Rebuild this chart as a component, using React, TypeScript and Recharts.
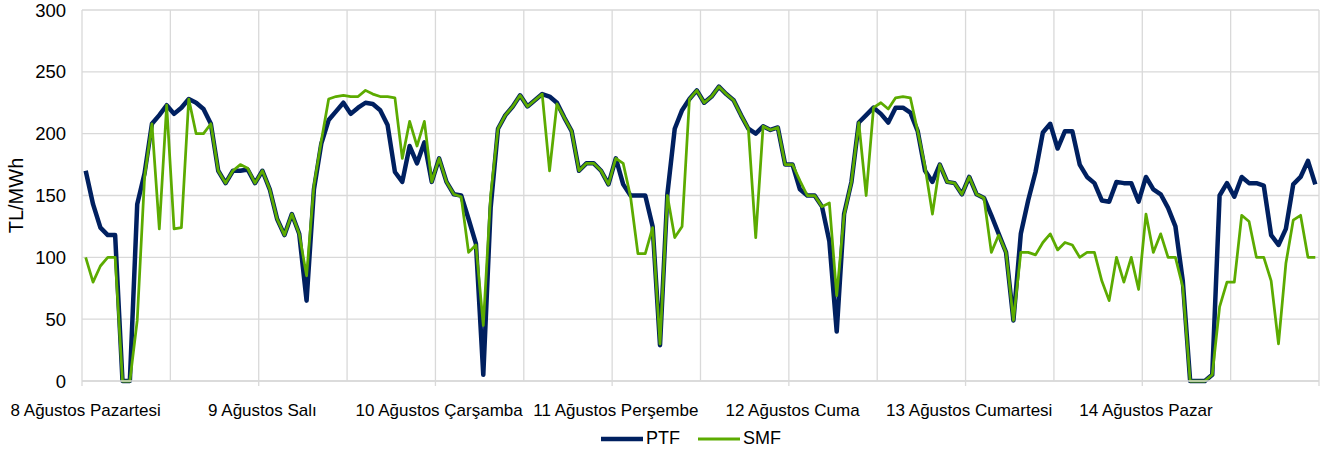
import React from 'react';
import { LineChart, Line, XAxis, YAxis, CartesianGrid, Legend } from 'recharts';

const DAY_LABELS = [
  '8 Ağustos Pazartesi',
  '9 Ağustos Salı',
  '10 Ağustos Çarşamba',
  '11 Ağustos Perşembe',
  '12 Ağustos Cuma',
  '13 Ağustos Cumartesi',
  '14 Ağustos Pazar',
];
const HOURS_PER_DAY = 24;
const GRID_STEP = 12;

const PTF = [
  170, 143, 124, 118, 118, 0, 0, 143, 168, 208, 215, 223, 216, 221, 228, 225, 220, 208, 170, 160, 170, 170, 171, 160,
  170, 155, 131, 118, 135, 119, 65, 155, 192, 211, 218, 225, 216, 221, 225, 224, 219, 207, 169, 161, 190, 176, 193, 161,
  180, 161, 151, 150, 131, 111, 5, 140, 204, 215, 222, 231, 222, 227, 232, 230, 225, 213, 202, 170, 176, 176, 170, 159,
  180, 159, 150, 150, 150, 125, 29, 151, 204, 219, 228, 235, 225, 230, 238, 232, 227, 215, 204, 200, 206, 203, 205, 175,
  175, 155, 150, 150, 141, 113, 40, 135, 161, 209, 215, 221, 216, 209, 221, 221, 217, 202, 170, 161, 175, 161, 160, 151,
  165, 151, 148, 134, 119, 104, 49, 119, 146, 169, 201, 208, 188, 202, 202, 175, 165, 160, 146, 145, 161, 160, 160, 145,
  165, 155, 151, 140, 125, 81, 0, 0, 0, 5, 150, 160, 149, 165, 160, 160, 158, 118, 110, 123, 159, 165, 178, 159,
];

const SMF = [
  100, 80, 93, 100, 100, 0, 0, 49, 165, 208, 123, 223, 123, 124, 228, 200, 200, 208, 170, 160, 170, 175, 172, 160,
  170, 155, 131, 118, 135, 119, 85, 158, 194, 228, 230, 231, 230, 230, 235, 232, 230, 230, 229, 180, 210, 190, 210, 161,
  180, 161, 151, 149, 104, 110, 45, 150, 204, 215, 222, 231, 222, 227, 232, 170, 224, 213, 202, 170, 176, 176, 170, 159,
  180, 176, 149, 103, 103, 124, 30, 150, 116, 125, 228, 235, 225, 230, 238, 232, 227, 215, 204, 116, 206, 203, 205, 175,
  175, 162, 150, 150, 141, 144, 69, 134, 161, 209, 150, 221, 225, 220, 229, 230, 229, 202, 173, 135, 175, 161, 160, 151,
  165, 151, 148, 104, 118, 104, 49, 104, 104, 102, 112, 119, 106, 112, 110, 100, 104, 104, 81, 65, 100, 80, 100, 74,
  135, 104, 119, 100, 100, 76, 0, 0, 0, 5, 60, 80, 80, 134, 129, 100, 100, 81, 30, 95, 130, 134, 100, 100,
];

const Y_TICKS = [0, 50, 100, 150, 200, 250, 300];
const SERIES_NAMES = ['PTF', 'SMF'];

const N = PTF.length;
const X_TICKS = Array.from({ length: N / GRID_STEP + 1 }, (_, k) => k * GRID_STEP - 0.5);
const data = PTF.map((p, i) => ({ h: i, PTF: p, SMF: SMF[i] }));

const NAVY = '#002060';
const GREEN = '#5cab00';
const GRID = '#d9d9d9';
const FONT = '"Liberation Sans", Arial, sans-serif';

const XTick = (props: any) => {
  const { x, y, payload, width } = props;
  const v = payload.value + 0.5;
  if (v % HOURS_PER_DAY !== 0) return <g />;
  const day = v / HOURS_PER_DAY;
  const w = typeof width === 'number' && width > 0 ? width : 1237;
  const half = w / N / 2;
  return (
    <g>
      <line x1={x} x2={x} y1={y} y2={y + 5} stroke={GRID} strokeWidth={1.3} />
      {day < DAY_LABELS.length && (
        <text x={x + half} y={y + 35} textAnchor="middle" fontSize={17} fill="#000" fontFamily={FONT}>
          {DAY_LABELS[day]}
        </text>
      )}
    </g>
  );
};

const YTitle = (props: any) => {
  const vb = props.viewBox || { x: 0, y: 10, width: 82, height: 371 };
  const cx = vb.x + 16;
  const cy = vb.y + vb.height / 2;
  return (
    <text
      x={cx}
      y={cy}
      transform={`rotate(-90 ${cx} ${cy})`}
      textAnchor="middle"
      dominantBaseline="central"
      fontSize={20}
      fill="#000"
      fontFamily={FONT}
    >
      TL/MWh
    </text>
  );
};

const LegendContent = () => {
  const colors = [NAVY, GREEN];
  const widths = [4.5, 3];
  return (
    <div
      style={{
        height: 45,
        display: 'flex',
        alignItems: 'center',
        paddingLeft: 601,
        paddingTop: 10,
        boxSizing: 'border-box',
        fontFamily: FONT,
        fontSize: 18,
        color: '#000',
      }}
    >
      {SERIES_NAMES.map((name, i) => (
        <div key={name} style={{ display: 'flex', alignItems: 'center', marginRight: 18 }}>
          <svg width={42} height={10} style={{ marginRight: 3 }}>
            <line x1={0} x2={42} y1={5} y2={5} stroke={colors[i]} strokeWidth={widths[i]} />
          </svg>
          <span>{name}</span>
        </div>
      ))}
    </div>
  );
};

export default function App() {
  return (
    <div style={{ position: 'absolute', left: 0, top: 0, width: 1323, height: 456, background: '#fff', fontFamily: FONT }}>
      <LineChart width={1323} height={456} data={data} margin={{ top: 10, right: 4, left: 0, bottom: 0 }}>
        <CartesianGrid stroke={GRID} strokeWidth={1.3} />
        <XAxis
          dataKey="h"
          type="number"
          domain={[-0.5, N - 0.5]}
          ticks={X_TICKS}
          interval={0}
          tickLine={false}
          tickSize={0}
          tickMargin={0}
          axisLine={{ stroke: GRID, strokeWidth: 1.3 }}
          tick={<XTick />}
          height={30}
        />
        <YAxis
          type="number"
          domain={[0, 300]}
          ticks={Y_TICKS}
          interval={0}
          width={82}
          axisLine={false}
          tickLine={false}
          tickSize={0}
          tickMargin={16}
          tick={{ fontSize: 18.5, fill: '#000', fontFamily: FONT }}
          label={<YTitle />}
        />
        <Legend verticalAlign="bottom" height={45} content={<LegendContent />} wrapperStyle={{ left: 0, bottom: 0, width: 1323, height: 45 }} />
        <Line
          type="linear"
          dataKey="PTF"
          stroke={NAVY}
          strokeWidth={4.5}
          dot={false}
          activeDot={false}
          isAnimationActive={false}
          strokeLinejoin="round"
        />
        <Line
          type="linear"
          dataKey="SMF"
          stroke={GREEN}
          strokeWidth={2.75}
          dot={false}
          activeDot={false}
          isAnimationActive={false}
          strokeLinejoin="round"
        />
      </LineChart>
    </div>
  );
}
